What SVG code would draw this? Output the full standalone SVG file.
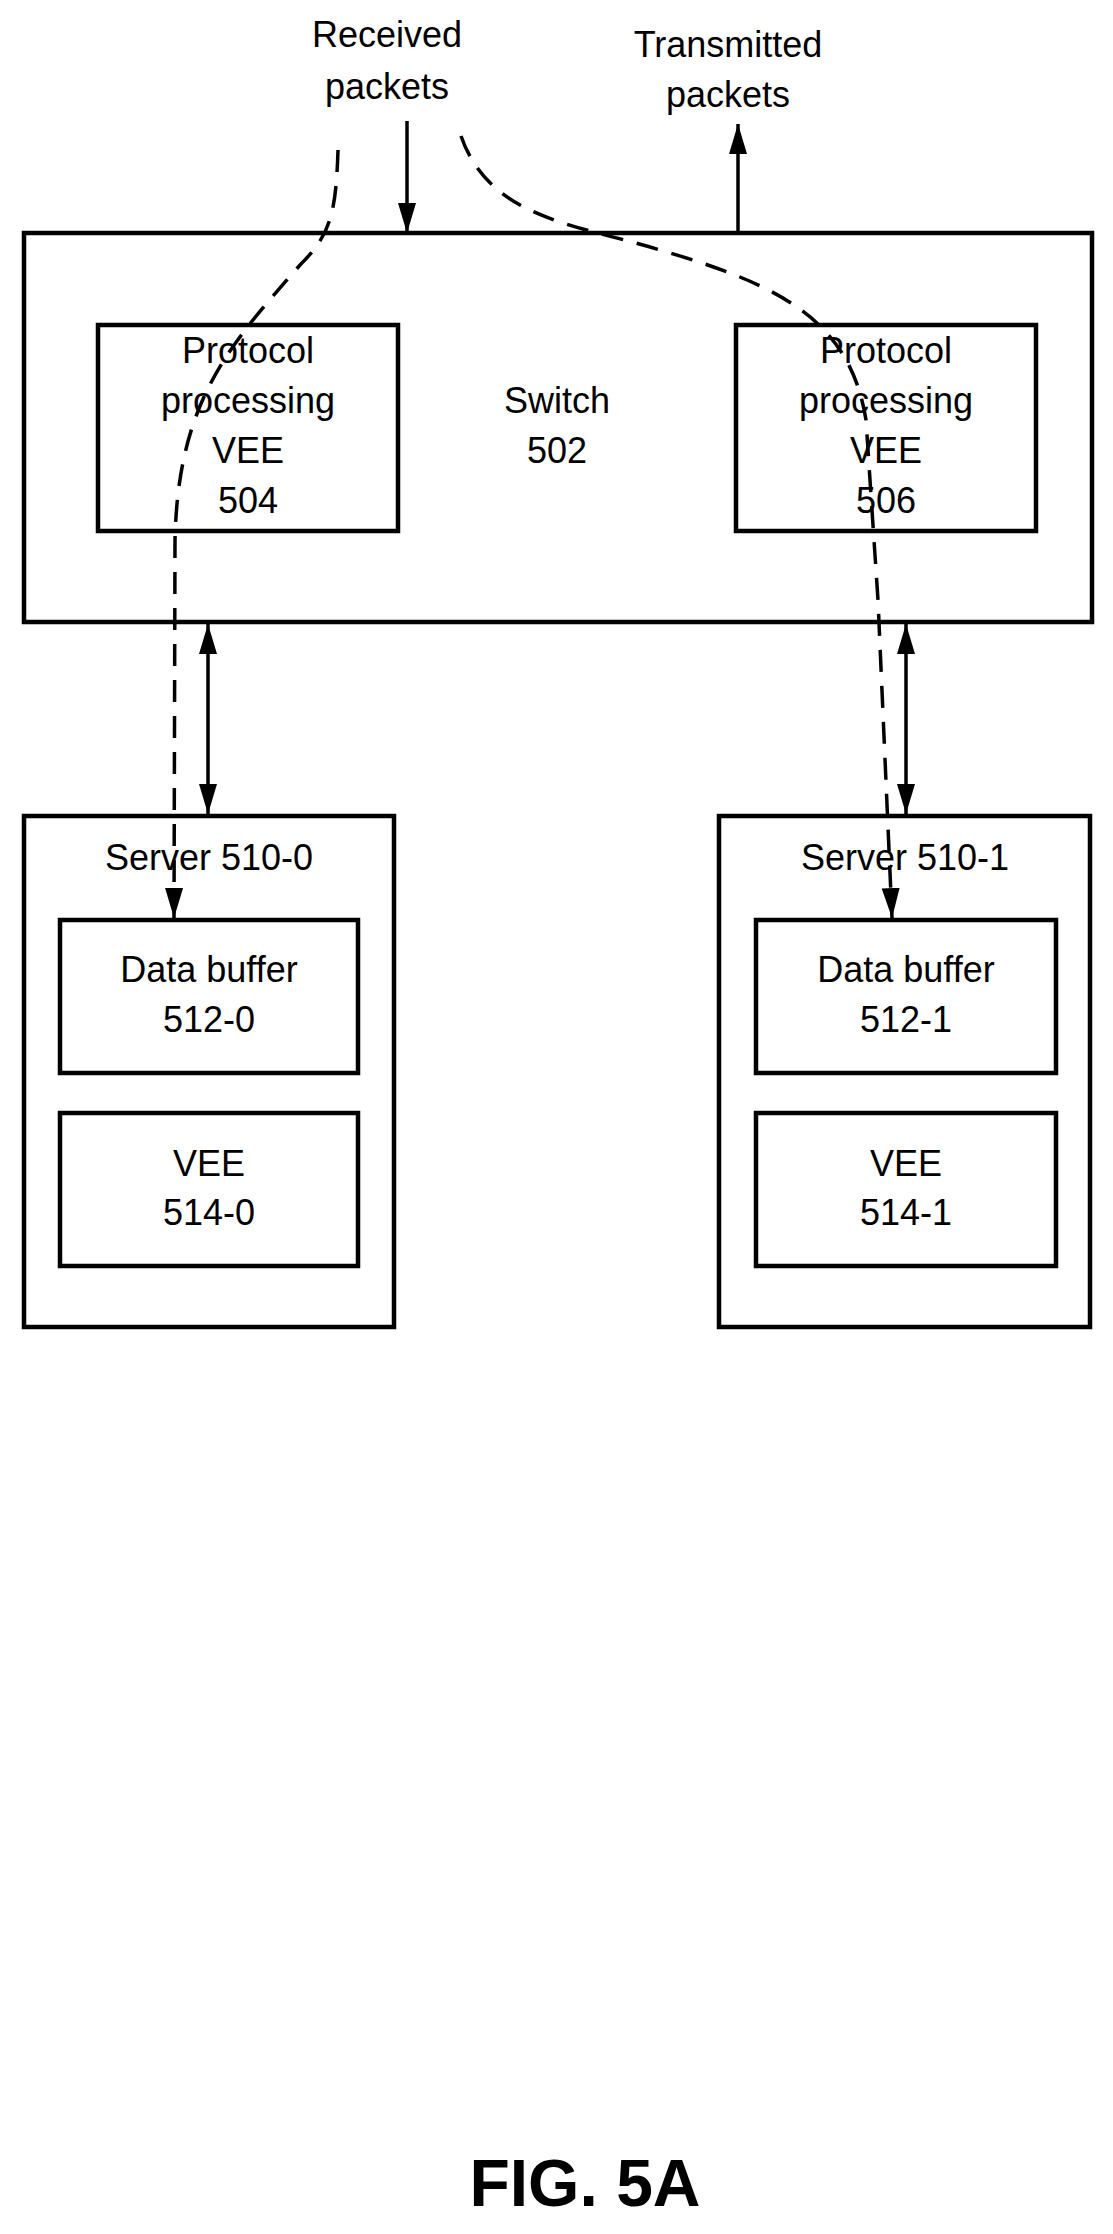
<svg xmlns="http://www.w3.org/2000/svg" width="1113" height="2234" viewBox="0 0 1113 2234">
<style>
.box{fill:#fff;stroke:#000;stroke-width:4.5}
.t{font-family:"Liberation Sans",Arial,sans-serif;font-size:36px;text-anchor:middle;fill:#000}
.ln{stroke:#000;stroke-width:3.5;fill:none}
.dash{stroke:#000;stroke-width:3.5;fill:none;stroke-dasharray:22,14}
</style>
<defs>
<marker id="ah" viewBox="0 0 10 10" refX="10" refY="5" markerWidth="8" markerHeight="8" markerUnits="userSpaceOnUse" orient="auto-start-reverse">
<path d="M0,0 L10,5 L0,10 z" fill="#000"/>
</marker>
<marker id="a" viewBox="0 0 10 10" refX="10" refY="5" markerWidth="30" markerHeight="30" markerUnits="userSpaceOnUse" orient="auto-start-reverse">
<path d="M0,2 L10,5 L0,8 z" fill="#000"/>
</marker>
</defs>
<rect width="1113" height="2234" fill="#fff"/>
<g id="switch"><rect class="box" x="24" y="233" width="1068" height="389"/><text class="t" x="557" y="413">Switch</text><text class="t" x="557" y="463">502</text></g>
<g id="pp504"><rect class="box" x="98" y="325" width="300" height="206"/><text class="t" x="248" y="363">Protocol</text><text class="t" x="248" y="413">processing</text><text class="t" x="248" y="463">VEE</text><text class="t" x="248" y="513">504</text></g>
<g id="pp506"><rect class="box" x="736" y="325" width="300" height="206"/><text class="t" x="886" y="363">Protocol</text><text class="t" x="886" y="413">processing</text><text class="t" x="886" y="463">VEE</text><text class="t" x="886" y="513">506</text></g>
<g id="labels"><text class="t" x="387" y="47">Received</text><text class="t" x="387" y="99">packets</text><text class="t" x="728" y="57">Transmitted</text><text class="t" x="728" y="107">packets</text></g>
<g id="server0"><rect class="box" x="24" y="816" width="370" height="511"/><text class="t" x="209" y="870">Server 510-0</text>
<rect class="box" x="60" y="920" width="298" height="153"/><text class="t" x="209" y="982">Data buffer</text><text class="t" x="209" y="1032">512-0</text>
<rect class="box" x="60" y="1113" width="298" height="153"/><text class="t" x="209" y="1176">VEE</text><text class="t" x="209" y="1225">514-0</text></g>
<g id="server1"><rect class="box" x="719" y="816" width="371" height="511"/><text class="t" x="905" y="870">Server 510-1</text>
<rect class="box" x="756" y="920" width="300" height="153"/><text class="t" x="906" y="982">Data buffer</text><text class="t" x="906" y="1032">512-1</text>
<rect class="box" x="756" y="1113" width="300" height="153"/><text class="t" x="906" y="1176">VEE</text><text class="t" x="906" y="1225">514-1</text></g>
<g id="connectors">
<line class="ln" x1="407" y1="121" x2="407" y2="233" marker-end="url(#a)"/>
<line class="ln" x1="738" y1="233" x2="738" y2="124" marker-end="url(#a)"/>
<line class="ln" x1="208" y1="624" x2="208" y2="814" marker-start="url(#a)" marker-end="url(#a)"/>
<line class="ln" x1="906" y1="624" x2="906" y2="814" marker-start="url(#a)" marker-end="url(#a)"/>
<path class="dash" d="M338,150 C336,215 330,235 300,265 C230,345 178,400 175,540 L174,918" marker-end="url(#a)"/>
<path class="dash" d="M461,136 C490,220 580,225 660,250 C780,285 850,320 866,420 L878,600 L892,918" marker-end="url(#a)"/>
</g>
<text x="585" y="2206" font-family="Liberation Sans,Arial,sans-serif" font-weight="bold" font-size="66" text-anchor="middle">FIG. 5A</text>
</svg>
